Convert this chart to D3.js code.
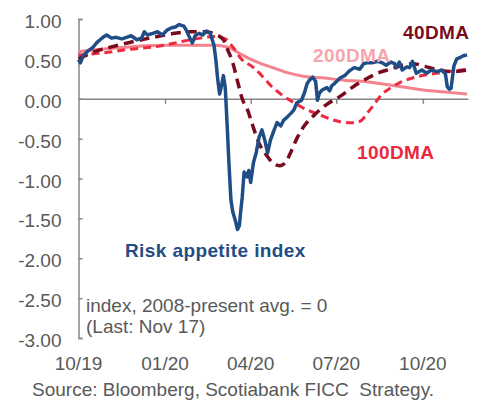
<html>
  <meta charset="utf-8">
  <head>
  <style>
    body {
      margin: 0;
      background: #fff;
    }
    svg text {
      font-family: "Liberation Sans", Arial, sans-serif;
      white-space: pre;
    }
  </style>
  </head>
  <body>
    <div id="chart"></div>

    <script src="https://d3js.org/d3.v7.min.js"></script>
    <script>

    'use strict';

    // risk appetite index (daily)
    var riskDates = ['2019-10-01','2019-10-03','2019-10-06','2019-10-11','2019-10-16','2019-10-21','2019-10-24','2019-10-27',
      '2019-10-31','2019-11-05','2019-11-10','2019-11-16','2019-11-21','2019-11-26','2019-12-02','2019-12-07','2019-12-10',
      '2019-12-13','2019-12-19','2019-12-24','2019-12-29','2020-01-03','2020-01-08','2020-01-12','2020-01-16','2020-01-21',
      '2020-01-24','2020-01-27','2020-01-30','2020-02-02','2020-02-06','2020-02-10','2020-02-14','2020-02-18','2020-02-22',
      '2020-02-24','2020-02-26','2020-02-28','2020-03-01','2020-03-03','2020-03-05','2020-03-07','2020-03-09','2020-03-11',
      '2020-03-13','2020-03-16','2020-03-18','2020-03-20','2020-03-21','2020-03-23','2020-03-25','2020-03-28','2020-03-30',
      '2020-04-01','2020-04-04','2020-04-07','2020-04-10','2020-04-13','2020-04-16','2020-04-19','2020-04-22','2020-04-26',
      '2020-04-29','2020-05-03','2020-05-06','2020-05-09','2020-05-14','2020-05-17','2020-05-20','2020-05-25','2020-05-28',
      '2020-05-31','2020-06-03','2020-06-06','2020-06-09','2020-06-11','2020-06-13','2020-06-16','2020-06-21','2020-06-24',
      '2020-06-26','2020-06-29','2020-07-05','2020-07-10','2020-07-15','2020-07-20','2020-07-26','2020-07-30','2020-08-03',
      '2020-08-08','2020-08-14','2020-08-19','2020-08-23','2020-08-28','2020-09-01','2020-09-03','2020-09-06','2020-09-09',
      '2020-09-14','2020-09-17','2020-09-20','2020-09-24','2020-09-30','2020-10-05','2020-10-10','2020-10-16','2020-10-21',
      '2020-10-25','2020-10-27','2020-10-29','2020-10-31','2020-11-03','2020-11-06','2020-11-10','2020-11-13','2020-11-17'];
    var riskValues = [0.49,0.45,0.54,0.60,0.64,0.71,0.74,0.77,
      0.80,0.76,0.77,0.75,0.77,0.79,0.74,0.76,0.84,
      0.80,0.82,0.84,0.80,0.86,0.89,0.90,0.93,0.91,
      0.85,0.77,0.70,0.79,0.82,0.80,0.85,0.82,0.67,
      0.49,0.24,0.06,0.16,0.29,0.14,-0.33,-0.83,-1.27,
      -1.42,-1.54,-1.64,-1.59,-1.46,-1.24,-0.92,-0.98,-0.90,
      -1.05,-0.80,-0.67,-0.48,-0.39,-0.52,-0.68,-0.52,-0.39,
      -0.30,-0.34,-0.27,-0.24,-0.18,-0.14,-0.05,-0.02,0.07,
      0.19,0.24,0.27,0.22,-0.02,0.07,0.11,0.14,0.10,
      0.16,0.19,0.26,0.29,0.35,0.39,0.37,0.44,0.45,
      0.45,0.47,0.45,0.42,0.46,0.44,0.39,0.46,0.36,
      0.40,0.39,0.47,0.32,0.36,0.32,0.36,0.34,0.36,
      0.31,0.15,0.12,0.13,0.41,0.50,0.52,0.54,0.55];

    // 40-day moving average
    var ma40Dates = ['2019-10-01','2019-10-18','2019-11-05','2019-11-22','2019-12-07','2019-12-24','2020-01-11','2020-01-27',
      '2020-02-12','2020-02-25','2020-03-03','2020-03-07','2020-03-13','2020-03-18','2020-03-23','2020-03-29','2020-04-03',
      '2020-04-10','2020-04-18','2020-04-24','2020-05-02','2020-05-08','2020-05-14','2020-05-20','2020-05-28','2020-06-08',
      '2020-06-21','2020-07-05','2020-07-19','2020-08-02','2020-08-16','2020-08-30','2020-09-09','2020-09-20','2020-10-05',
      '2020-10-19','2020-11-02','2020-11-17'];
    var ma40Values = [0.50,0.59,0.65,0.70,0.74,0.78,0.82,0.84,
      0.84,0.80,0.74,0.63,0.45,0.22,0.00,-0.15,-0.33,
      -0.56,-0.71,-0.80,-0.84,-0.80,-0.66,-0.50,-0.34,-0.20,
      -0.07,0.03,0.15,0.25,0.33,0.38,0.42,0.44,0.40,
      0.36,0.34,0.36];

    // 100-day moving average
    var ma100Dates = ['2019-10-01','2019-10-24','2019-11-24','2019-12-26','2020-01-20','2020-02-07','2020-02-23','2020-03-05',
      '2020-03-13','2020-03-22','2020-04-03','2020-04-12','2020-04-22','2020-05-04','2020-05-17','2020-05-31','2020-06-15',
      '2020-06-29','2020-07-13','2020-07-21','2020-07-28','2020-08-03','2020-08-11','2020-08-18','2020-08-27','2020-09-06',
      '2020-09-20','2020-10-05','2020-10-22','2020-11-17'];
    var ma100Values = [0.55,0.57,0.62,0.66,0.72,0.76,0.78,0.75,
      0.65,0.50,0.40,0.30,0.17,0.05,-0.05,-0.14,-0.21,
      -0.27,-0.30,-0.30,-0.27,-0.18,-0.06,0.05,0.13,0.20,
      0.26,0.30,0.33,0.37];

    // 200-day moving average
    var ma200Dates = ['2019-10-01','2019-10-24','2019-11-24','2020-01-01','2020-02-07','2020-02-23','2020-03-07','2020-03-20',
      '2020-03-31','2020-04-10','2020-04-22','2020-05-09','2020-05-28','2020-06-19','2020-07-10','2020-07-28','2020-08-16',
      '2020-09-03','2020-10-01','2020-10-28','2020-11-17'];
    var ma200Values = [0.59,0.62,0.65,0.67,0.67,0.67,0.65,0.57,
      0.50,0.45,0.40,0.33,0.28,0.26,0.23,0.22,0.19,
      0.16,0.11,0.08,0.06];

    var yTicks = [-3, -2.5, -2, -1.5, -1, -0.5, 0, 0.5, 1];
    var xTickDates = ['2019-10-01','2020-01-01','2020-04-01','2020-07-01','2020-10-01'];
    var xTickLabels = ['10/19','01/20','04/20','07/20','10/20'];

    var parse = d3.timeParse('%Y-%m-%d');
    function zipSeries(dates, values) {
      return dates.map(function(d, i) { return { date: parse(d), value: values[i] }; });
    }

    var W = 490, H = 400;
    var AXIS = '#868686', TEXT = '#595959';

    var svg = d3.select('#chart').append('svg')
      .attr('width', W)
      .attr('height', H);

    var x = d3.scaleTime()
      .domain([parse('2019-10-01'), parse('2020-11-18')])
      .range([78.5, 468]);
    var y = d3.scaleLinear()
      .domain([-3, 1])
      .range([338, 19]);

    var fmt = d3.format('.2f');

    // y axis, ticks pointing into the plot
    var yAxis = svg.append('g')
      .attr('transform', 'translate(78.5,0)')
      .call(d3.axisLeft(y)
        .tickValues(yTicks)
        .tickSizeInner(-4)
        .tickSizeOuter(-4)
        .tickPadding(17)
        .tickFormat(function(d) { return fmt(d).replace('\u2212', '-'); }));
    yAxis.selectAll('path, line').attr('stroke', AXIS).attr('stroke-width', 1.5);
    yAxis.selectAll('text')
      .attr('fill', TEXT)
      .attr('font-size', 19)
      .attr('dy', '0.45em');

    // zero line with quarter ticks
    var xAxis = svg.append('g')
      .attr('transform', 'translate(0,' + y(0) + ')')
      .call(d3.axisBottom(x)
        .tickValues(xTickDates.slice(1).map(parse))
        .tickSize(5)
        .tickSizeOuter(0)
        .tickFormat(''));
    xAxis.selectAll('path, line').attr('stroke', AXIS).attr('stroke-width', 1.5);

    svg.append('g').selectAll('text')
      .data(xTickDates)
      .enter().append('text')
      .attr('x', function(d) { return x(parse(d)); })
      .attr('y', 370)
      .attr('text-anchor', 'middle')
      .attr('fill', TEXT)
      .attr('font-size', 19)
      .text(function(d, i) { return xTickLabels[i]; });

    var line = d3.line()
      .x(function(d) { return x(d.date); })
      .y(function(d) { return y(d.value); });
    var smooth = d3.line()
      .curve(d3.curveMonotoneX)
      .x(function(d) { return x(d.date); })
      .y(function(d) { return y(d.value); });

    svg.append('path')
      .datum(zipSeries(ma200Dates, ma200Values))
      .attr('d', smooth)
      .attr('fill', 'none')
      .attr('stroke', '#f5838d')
      .attr('stroke-width', 3);

    svg.append('path')
      .datum(zipSeries(ma100Dates, ma100Values))
      .attr('d', smooth)
      .attr('fill', 'none')
      .attr('stroke', '#ee2a40')
      .attr('stroke-width', 3)
      .attr('stroke-dasharray', '8,5');

    svg.append('path')
      .datum(zipSeries(ma40Dates, ma40Values))
      .attr('d', smooth)
      .attr('fill', 'none')
      .attr('stroke', '#7a0b1e')
      .attr('stroke-width', 3.5)
      .attr('stroke-dasharray', '10,6');

    svg.append('path')
      .datum(zipSeries(riskDates, riskValues))
      .attr('d', line)
      .attr('fill', 'none')
      .attr('stroke', '#1f4d86')
      .attr('stroke-width', 3.5)
      .attr('stroke-linejoin', 'round');

    // series labels
    function label(txt, px, py, color) {
      svg.append('text')
        .attr('x', px)
        .attr('y', py)
        .attr('fill', color)
        .attr('font-size', 19)
        .attr('font-weight', 'bold')
        .attr('letter-spacing', 0.4)
        .text(txt);
    }
    label('40DMA', 403, 39, '#7a0b1e');
    label('200DMA', 313, 62, '#f7a4ab');
    label('100DMA', 357, 159, '#e8283c');
    label('Risk appetite index', 125, 257, '#1f4d86');

    // notes
    svg.append('text')
      .attr('x', 86).attr('y', 312)
      .attr('fill', TEXT).attr('font-size', 19)
      .text('index, 2008-present avg. = 0');
    svg.append('text')
      .attr('x', 86).attr('y', 333)
      .attr('fill', TEXT).attr('font-size', 19)
      .text('(Last: Nov 17)');
    svg.append('text')
      .attr('x', 32).attr('y', 396)
      .attr('fill', TEXT).attr('font-size', 19)
      .text('Source: Bloomberg, Scotiabank FICC  Strategy.');

    </script>
  </body>
</html>
